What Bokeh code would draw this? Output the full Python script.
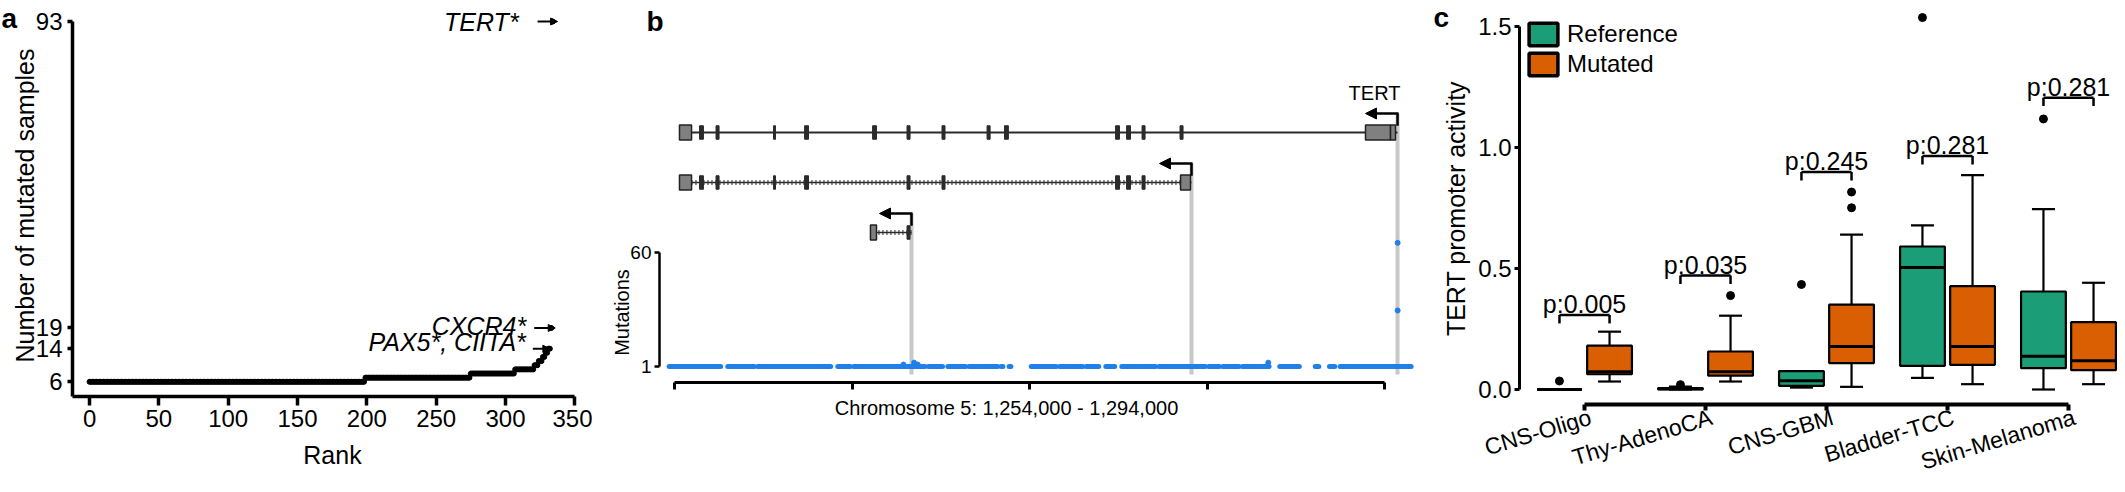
import math
from bokeh.plotting import figure
from bokeh.models import (Range1d, FixedTicker, Label, Arrow, NormalHead,
                          Legend, LegendItem, NumeralTickFormatter)
from bokeh.layouts import row
from bokeh.core.properties import value
from bokeh.embed import file_html
from bokeh.resources import INLINE

FONT = "Liberation Sans"
TEAL = "#1b9e77"
ORANGE = "#d95f02"
BLUE = "#1e80e8"
GREY_LINE = "#c8c8c8"
EXON = "#2b2b2b"
UTR = "#808080"
NAN = float("nan")

# ================= Panel a data =================
run_counts = [6, 7, 8, 9, 10, 11, 12, 13, 14, 19, 93]
run_lengths = [199, 76, 32, 14, 3, 3, 2, 2, 2, 1, 1]
rank_ticks = [0, 50, 100, 150, 200, 250, 300, 350]
count_ticks = [6, 14, 19, 93]
gene_labels = ["TERT*", "CXCR4*", "PAX5*, CIITA*"]
gene_ranks = [334, 333, 332]
gene_counts = [93, 19, 14]

# ================= Panel b data =================
chrom_ticks = [1254000, 1264000, 1274000, 1284000, 1294000]
chrom_label = "Chromosome 5: 1,254,000 - 1,294,000"
mut_ticks = [1, 60]
gene_name = "TERT"
tx_row = [1, 2, 3]
tx_tss = [1294734, 1283128, 1267353]
tx_first = [1254280, 1254280, 1265040]
tx_dotted = [False, True, True]
utr_tx = [0, 0, 0, 1, 1, 2]
utr_start = [1254280, 1292930, 1294340, 1254280, 1282510, 1265040]
utr_end = [1254960, 1294340, 1294620, 1254960, 1283070, 1265380]
exon_tx = [0] * 13 + [1] * 9 + [2]
exon_start = [1255410, 1256340, 1259580, 1261330, 1265160, 1267100, 1269070,
              1271610, 1272590, 1278850, 1279470, 1280340, 1282480,
              1255410, 1256340, 1259580, 1261330, 1267100, 1269070,
              1278850, 1279470, 1280340,
              1267100]
exon_end = [1255630, 1256510, 1259690, 1261550, 1265380, 1267270, 1269240,
            1271780, 1272810, 1279070, 1279690, 1280510, 1282650,
            1255630, 1256510, 1259690, 1261550, 1267270, 1269240,
            1279070, 1279690, 1280510,
            1267270]
# clusters of positions carrying a single mutation
mut_start = [1253700, 1257000, 1258700, 1263200, 1263600, 1264100, 1268300,
             1269400, 1270600, 1271500, 1272400, 1272850, 1274100, 1275700,
             1276400, 1277200, 1278300, 1279200, 1280500, 1281300, 1283300,
             1284100, 1284900, 1286000, 1286700, 1288100, 1290100, 1290900,
             1291500]
mut_end = [1256600, 1258500, 1262800, 1263500, 1263900, 1268100, 1269100,
           1270400, 1271400, 1272200, 1272500, 1272950, 1275500, 1276300,
           1277000, 1277900, 1278800, 1280400, 1281100, 1283200, 1283900,
           1284700, 1285800, 1286600, 1287500, 1289200, 1290300, 1291200,
           1295500]
mut_pos = [1266900, 1267500, 1267700, 1287450, 1294740, 1294740]
mut_count = [2, 3, 2, 3, 30, 65]

# ================= Panel c data =================
cancer_types = ["CNS-Oligo", "Thy-AdenoCA", "CNS-GBM", "Bladder-TCC", "Skin-Melanoma"]
ref_q1 = [0.0, 0.0, 0.015, 0.098, 0.088]
ref_med = [0.0, 0.003, 0.036, 0.504, 0.137]
ref_q3 = [0.0, 0.006, 0.076, 0.591, 0.405]
ref_lo = [0.0, 0.0, 0.008, 0.048, 0.0]
ref_hi = [0.0, 0.012, 0.076, 0.678, 0.745]
mut_q1 = [0.063, 0.057, 0.109, 0.102, 0.080]
mut_med = [0.073, 0.073, 0.178, 0.178, 0.119]
mut_q3 = [0.181, 0.157, 0.351, 0.427, 0.278]
mut_lo = [0.033, 0.033, 0.011, 0.022, 0.022]
mut_hi = [0.239, 0.305, 0.640, 0.886, 0.441]
ref_out_group = [0, 1, 2, 3, 4]
ref_out_val = [0.035, 0.02, 0.434, 1.537, 1.118]
mut_out_group = [1, 2, 2]
mut_out_val = [0.388, 0.816, 0.751]
p_labels = ["p:0.005", "p:0.035", "p:0.245", "p:0.281", "p:0.281"]
bracket_y = [0.308, 0.471, 0.899, 0.965, 1.206]
act_ticks = [0.0, 0.5, 1.0, 1.5]

# ---------------- layout: each figure's frame fills its whole canvas ----------------
H = 476
PAGE_TOP, PAGE_BOT = 8, 8 + H


def style_axis(ax, lw, tick_out, fs, standoff):
    ax.axis_line_width = lw
    ax.axis_line_color = "black"
    ax.major_tick_line_width = lw
    ax.major_tick_line_color = "black"
    ax.major_tick_out = tick_out
    ax.major_tick_in = 0
    ax.minor_tick_out = 0
    ax.minor_tick_in = 0
    ax.major_label_text_font = FONT
    ax.major_label_text_font_size = fs
    ax.major_label_text_color = "black"
    ax.major_label_standoff = standoff


def new_fig(width, xr, yr):
    p = figure(width=width, height=H, x_range=Range1d(*xr), y_range=Range1d(*yr),
               output_backend="svg", toolbar_location=None,
               min_border_left=0, min_border_right=0, min_border_top=0, min_border_bottom=0)
    p.xgrid.visible = False
    p.ygrid.visible = False
    p.outline_line_color = None
    p.background_fill_color = "white"
    p.border_fill_color = "white"
    return p


def text_label(p, x, y, t, size, style="normal", angle=0.0, align="center",
               baseline="middle", y_range_name="default"):
    p.add_layout(Label(x=x, y=y, text=t, text_font=FONT, text_font_size=size,
                       text_font_style=style, angle=angle, text_align=align,
                       text_baseline=baseline, text_color="black", y_range_name=y_range_name))


# ================= Panel a =================
A_PX0, A_PX1 = 8, 600
A_SX = (582.3 - 97.05) / 350.0          # px per rank
A_SY = (389.3 - 29.0) / (93 - 6)        # px per sample


def ax_(px):
    return (px - 97.05) / A_SX


def ay_(py):
    return 6 + (389.3 - py) / A_SY


pa = new_fig(A_PX1 - A_PX0, (ax_(A_PX0), ax_(A_PX1)), (ay_(PAGE_BOT), ay_(PAGE_TOP)))

ranks, counts = [], []
r = 0
for v, n in zip(run_counts, run_lengths):
    for _ in range(n):
        ranks.append(r)
        counts.append(v)
        r += 1
pa.scatter(ranks, counts, size=5, color="black")

A_XAXIS_AT = ay_(404)
A_YAXIS_AT = ax_(80)
pa.xaxis.ticker = FixedTicker(ticks=rank_ticks)
pa.xaxis.bounds = (A_YAXIS_AT, rank_ticks[-1])
pa.xaxis.fixed_location = A_XAXIS_AT
style_axis(pa.xaxis[0], 3.5, 9, "24px", 4)
pa.yaxis.ticker = FixedTicker(ticks=count_ticks)
pa.yaxis.bounds = (A_XAXIS_AT, count_ticks[-1])
pa.yaxis.fixed_location = A_YAXIS_AT
style_axis(pa.yaxis[0], 3.5, 5, "24px", 5)
text_label(pa, ax_(340), ay_(462), "Rank", "25px")
text_label(pa, ax_(32), ay_(213), "Number of mutated samples", "25px", angle=math.pi / 2)

tip_px = [5, 4, 0]
arrow_len_px = [20, 21, 17]
gap_px = [19, 8, 7]
lift_px = [0, 2, 7]
for lab, rk, ct, tp, al, gp, lf in zip(gene_labels, gene_ranks, gene_counts, tip_px, arrow_len_px, gap_px, lift_px):
    x_tip = rk + tp / A_SX
    x_start = x_tip - al / A_SX
    pa.add_layout(Arrow(x_start=x_start, y_start=ct, x_end=x_tip, y_end=ct, line_width=2,
                        end=NormalHead(size=7, fill_color="black", line_color="black", line_width=1)))
    text_label(pa, x_start - gp / A_SX, ct + lf / A_SY, lab, "25px", style="italic",
               align="right")

text_label(pa, ax_(9), ay_(26), "a", "28px", style="bold", align="left", baseline="alphabetic")

# ================= Panel b =================
B_PX0, B_PX1 = 600, 1440
B_SX = 177.5 / 10000.0                 # px per bp
B_SY = (374 - 260) / (60 - 1)          # px per mutation


def bx_(px):
    return 1254000 + (px - 682) / B_SX


def by_(py):
    return 1 + (374 - py) / B_SY


TRACK_PX0, TRACK_STEP = 140, 50


def tr_(py):
    return 1 + (py - TRACK_PX0) / TRACK_STEP


pb = new_fig(B_PX1 - B_PX0, (bx_(B_PX0), bx_(B_PX1)), (by_(PAGE_BOT), by_(PAGE_TOP)))
pb.extra_y_ranges = {"tracks": Range1d(start=tr_(PAGE_BOT), end=tr_(PAGE_TOP))}
TR = "tracks"
ARROW_UP = 0.38
EXON_H = 0.27
UTR_H = 0.30
GREY_BOTTOM = tr_(382)

# grey TSS guide lines
pb.segment(x0=tx_tss, x1=tx_tss, y0=[rw - ARROW_UP for rw in tx_row], y1=[GREY_BOTTOM] * 3,
           line_color=GREY_LINE, line_width=4, y_range_name=TR)

# mutations
pb.segment(x0=mut_start, x1=mut_end, y0=[1] * len(mut_start), y1=[1] * len(mut_start),
           line_color=BLUE, line_width=5, line_cap="round")
pb.scatter(mut_pos, mut_count, size=5, color=BLUE)

# transcripts: introns
for i in range(3):
    rw = tx_row[i]
    if tx_dotted[i]:
        pb.segment(x0=[tx_first[i]], x1=[tx_tss[i]], y0=[rw], y1=[rw], line_color=EXON,
                   line_width=1.5, y_range_name=TR)
        pb.segment(x0=[tx_first[i]], x1=[tx_tss[i]], y0=[rw], y1=[rw], line_color=EXON,
                   line_width=5, line_dash="1 3", y_range_name=TR)
    else:
        pb.segment(x0=[tx_first[i]], x1=[tx_tss[i]], y0=[rw], y1=[rw], line_color=EXON,
                   line_width=2, y_range_name=TR)

# exons and UTR boxes
pb.quad(left=exon_start, right=exon_end,
        bottom=[tx_row[t] + EXON_H / 2 for t in exon_tx], top=[tx_row[t] - EXON_H / 2 for t in exon_tx],
        fill_color=EXON, line_color=EXON, line_width=1, y_range_name=TR)
pb.quad(left=utr_start, right=utr_end,
        bottom=[tx_row[t] + UTR_H / 2 for t in utr_tx], top=[tx_row[t] - UTR_H / 2 for t in utr_tx],
        fill_color=UTR, line_color="#222222", line_width=1.5, y_range_name=TR)

# TSS arrows
for i in range(3):
    rw = tx_row[i]
    pb.segment(x0=[tx_tss[i]], x1=[tx_tss[i]], y0=[rw - EXON_H / 2], y1=[rw - ARROW_UP],
               line_color="black", line_width=2.5, y_range_name=TR)
    pb.add_layout(Arrow(x_start=tx_tss[i] + 1 / B_SX, y_start=rw - ARROW_UP,
                        x_end=tx_tss[i] - 32 / B_SX, y_end=rw - ARROW_UP,
                        line_width=2.5, y_range_name=TR,
                        end=NormalHead(size=11, fill_color="black", line_color="black", line_width=1)))

text_label(pb, tx_tss[0] - 23 / B_SX, tx_row[0] - 0.8, gene_name, "20px", y_range_name=TR)

pb.xaxis.ticker = FixedTicker(ticks=chrom_ticks)
pb.xaxis.bounds = (chrom_ticks[0], chrom_ticks[-1])
pb.xaxis.fixed_location = by_(390)
pb.xaxis.major_label_overrides = {t: " " for t in chrom_ticks}
style_axis(pb.xaxis[0], 3, 7, "10px", 0)
pb.yaxis.ticker = FixedTicker(ticks=mut_ticks)
pb.yaxis.bounds = (1, 60)
pb.yaxis.fixed_location = bx_(667)
style_axis(pb.yaxis[0], 2.5, 5, "19px", 3)

text_label(pb, bx_(1014), by_(415), chrom_label, "20px")
text_label(pb, bx_(629), by_(320), "Mutations", "20px", angle=math.pi / 2)
text_label(pb, bx_(654), by_(29), "b", "28px", style="bold", align="left", baseline="alphabetic")

# ================= Panel c =================
C_PX0, C_PX1 = 1440, 2125
C_SX = 121.0                 # px per category
C_SY = (397 - 34) / 1.5      # px per activity unit


def cx_(px):
    return (px - 1592) / C_SX


def cy_(py):
    return (397 - py) / C_SY


pc = new_fig(C_PX1 - C_PX0, (cx_(C_PX0), cx_(C_PX1)), (cy_(PAGE_BOT), cy_(PAGE_TOP)))
OFF = 0.207
BW = 0.37
CAP = 0.095


def draw_boxes(xs, q1, med, q3, lo, hi, color):
    pc.segment(x0=xs, x1=xs, y0=q3, y1=hi, line_color="black", line_width=2.2)
    pc.segment(x0=xs, x1=xs, y0=q1, y1=lo, line_color="black", line_width=2.2)
    pc.segment(x0=[x - CAP for x in xs], x1=[x + CAP for x in xs], y0=hi, y1=hi,
               line_color="black", line_width=2.2)
    pc.segment(x0=[x - CAP for x in xs], x1=[x + CAP for x in xs], y0=lo, y1=lo,
               line_color="black", line_width=2.2)
    pc.vbar(x=xs, width=BW, bottom=q1, top=q3, fill_color=color, line_color="black", line_width=2.2)
    pc.segment(x0=[x - BW / 2 for x in xs], x1=[x + BW / 2 for x in xs], y0=med, y1=med,
               line_color="black", line_width=3)


idx = list(range(len(cancer_types)))
ref_x = [i - OFF for i in idx]
mut_x = [i + OFF for i in idx]
draw_boxes(ref_x, ref_q1, ref_med, ref_q3, ref_lo, ref_hi, TEAL)
draw_boxes(mut_x, mut_q1, mut_med, mut_q3, mut_lo, mut_hi, ORANGE)
pc.scatter([g - OFF for g in ref_out_group], ref_out_val, size=8, color="black")
pc.scatter([g + OFF for g in mut_out_group], mut_out_val, size=8, color="black")

LEG = 0.035
pc.segment(x0=ref_x, x1=mut_x, y0=bracket_y, y1=bracket_y, line_color="black", line_width=2.5)
pc.segment(x0=ref_x, x1=ref_x, y0=bracket_y, y1=[b - LEG for b in bracket_y], line_color="black", line_width=2.5)
pc.segment(x0=mut_x, x1=mut_x, y0=bracket_y, y1=[b - LEG for b in bracket_y], line_color="black", line_width=2.5)
pc.text(x=idx, y=[b + 0.045 for b in bracket_y], text=p_labels, text_font=value(FONT),
        text_font_size="25px", text_align="center", text_baseline="alphabetic", text_color="black")

pc.xaxis.ticker = FixedTicker(ticks=idx)
pc.xaxis.bounds = (0, len(cancer_types) - 1)
pc.xaxis.fixed_location = cy_(412)
pc.xaxis.major_label_overrides = {i: " " for i in idx}
style_axis(pc.xaxis[0], 4, 6, "10px", 0)
for i, name in zip(idx, cancer_types):
    text_label(pc, i + 6 / C_SX, cy_(424), name, "23px", angle=0.29, align="right")
pc.yaxis.ticker = FixedTicker(ticks=act_ticks)
pc.yaxis.bounds = (0, 1.5)
pc.yaxis.fixed_location = cx_(1527)
pc.yaxis.formatter = NumeralTickFormatter(format="0.0")
style_axis(pc.yaxis[0], 3, 5, "24px", 3)
text_label(pc, cx_(1463), cy_(216), "TERT promoter activity", "25px", angle=math.pi / 2)

leg_ref = pc.rect(x=[NAN], y=[NAN], width=1, height=1, fill_color=TEAL, line_color="black", line_width=3.5)
leg_mut = pc.rect(x=[NAN], y=[NAN], width=1, height=1, fill_color=ORANGE, line_color="black", line_width=3.5)
legend = Legend(items=[LegendItem(label="Reference", renderers=[leg_ref]),
                       LegendItem(label="Mutated", renderers=[leg_mut])],
                location=(1533 - C_PX0, PAGE_BOT - 86), glyph_width=36, glyph_height=28,
                label_height=28, label_standoff=6, spacing=2, padding=0, margin=0,
                border_line_color=None, background_fill_alpha=0,
                label_text_font=FONT, label_text_font_size="24px", label_text_color="black")
pc.add_layout(legend)

text_label(pc, cx_(1441), cy_(25), "c", "28px", style="bold", align="left", baseline="alphabetic")

layout = row(pa, pb, pc)
open("out.html", "w").write(file_html(layout, INLINE))
